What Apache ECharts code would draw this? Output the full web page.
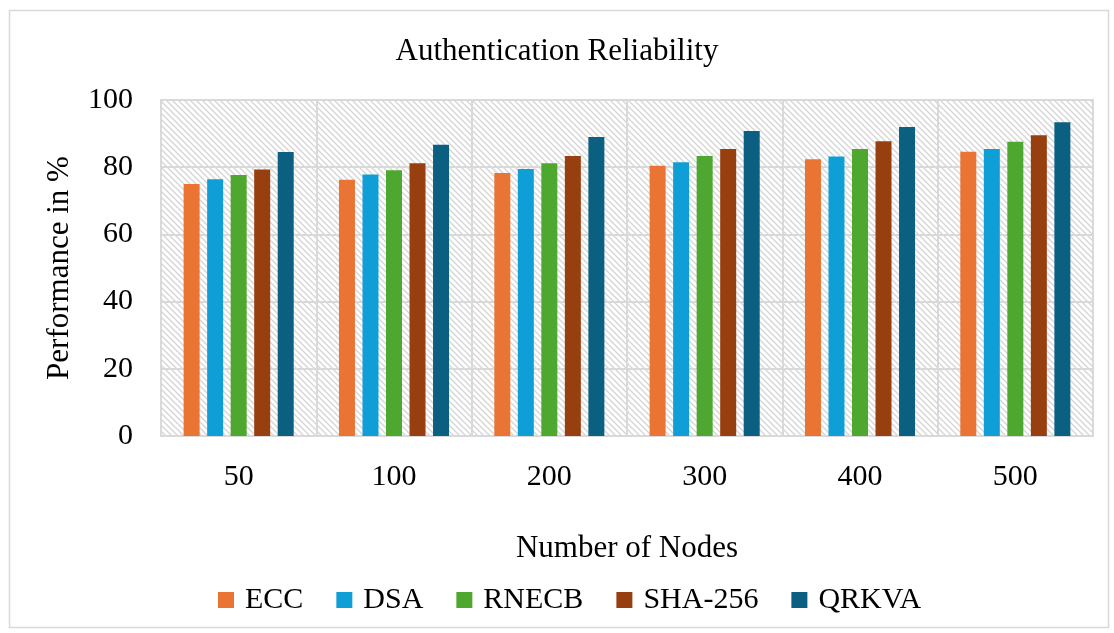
<!DOCTYPE html>
<html><head><meta charset="utf-8">
<script src="https://cdn.jsdelivr.net/npm/echarts@6/dist/echarts.min.js"></script>
<style>html,body{margin:0;padding:0;background:#fff}#c{width:1114px;height:633px}</style>
</head><body><div id="c"></div>
<script>
const categories = ['50','100','200','300','400','500'];
const seriesNames = ['ECC','DSA','RNECB','SHA-256','QRKVA'];
const ecc    = [75.0, 76.3, 78.3, 80.4, 82.4, 84.6];
const dsa    = [76.4, 77.8, 79.5, 81.5, 83.2, 85.4];
const rnecb  = [77.7, 79.1, 81.2, 83.3, 85.4, 87.6];
const sha256 = [79.3, 81.2, 83.3, 85.4, 87.7, 89.5];
const qrkva  = [84.5, 86.7, 89.0, 90.8, 92.0, 93.4];
const colors = ['#EA7434','#0F9ED5','#4EA72E','#983F10','#0B5F80'];
const values = [ecc, dsa, rnecb, sha256, qrkva];

// hatch pattern
const pc = document.createElement('canvas');
pc.width = 6; pc.height = 6;
const g = pc.getContext('2d');
g.fillStyle = '#ffffff'; g.fillRect(0,0,6,6);
g.strokeStyle = '#d4d4d4'; g.lineWidth = 1.3;
g.beginPath();
g.moveTo(-1,-1); g.lineTo(7,7);
g.moveTo(-4,2); g.lineTo(4,10);
g.moveTo(2,-4); g.lineTo(10,4);
g.stroke();

const font = '"Liberation Serif", "Times New Roman", serif';
const chart = echarts.init(document.getElementById('c'));
chart.setOption({
  animation: false,
  textStyle: { fontFamily: font },
  title: { text: 'Authentication Reliability', left: 'center', top: 31,
    textStyle: { fontFamily: font, fontSize: 31, fontWeight: 'normal', color: '#000' } },
  graphic: [{ type: 'rect', left: 7, top: 8, shape: { width: 1099, height: 617 },
    style: { fill: 'none', stroke: '#d9d9d9', lineWidth: 1.5 }, z: -1 }],
  grid: { left: 161, right: 21, top: 100, bottom: 197, show: true,
    backgroundColor: { image: pc, repeat: 'repeat' }, borderColor: '#d9d9d9', borderWidth: 2 },
  legend: { top: 580, left: 213, itemWidth: 16, itemHeight: 16, itemGap: 33,
    icon: 'rect', textStyle: { fontFamily: font, fontSize: 30, color: '#000', padding: [0,0,0,6] } },
  xAxis: { type: 'category', data: categories,
    name: 'Number of Nodes', nameLocation: 'middle', nameGap: 97,
    nameTextStyle: { fontFamily: font, fontSize: 31, color: '#000' },
    axisLine: { lineStyle: { color: '#d9d9d9', width: 2 } }, axisTick: { show: false },
    axisLabel: { fontFamily: font, fontSize: 30, color: '#000', margin: 26 },
    splitLine: { show: true, lineStyle: { color: '#d9d9d9', width: 2 } } },
  yAxis: { type: 'value', min: 0, max: 100, interval: 20,
    name: 'Performance in %', nameLocation: 'middle', nameGap: 86, nameRotate: 90,
    nameTextStyle: { fontFamily: font, fontSize: 31, color: '#000' },
    axisLine: { show: false }, axisTick: { show: false },
    axisLabel: { fontFamily: font, fontSize: 30, color: '#000', margin: 28 },
    splitLine: { lineStyle: { color: '#d9d9d9', width: 2 } } },
  series: seriesNames.map((n, i) => ({
    name: n, type: 'bar', data: values[i], barWidth: 16, barGap: '47%',
    itemStyle: { color: colors[i] }
  }))
});
</script></body></html>
